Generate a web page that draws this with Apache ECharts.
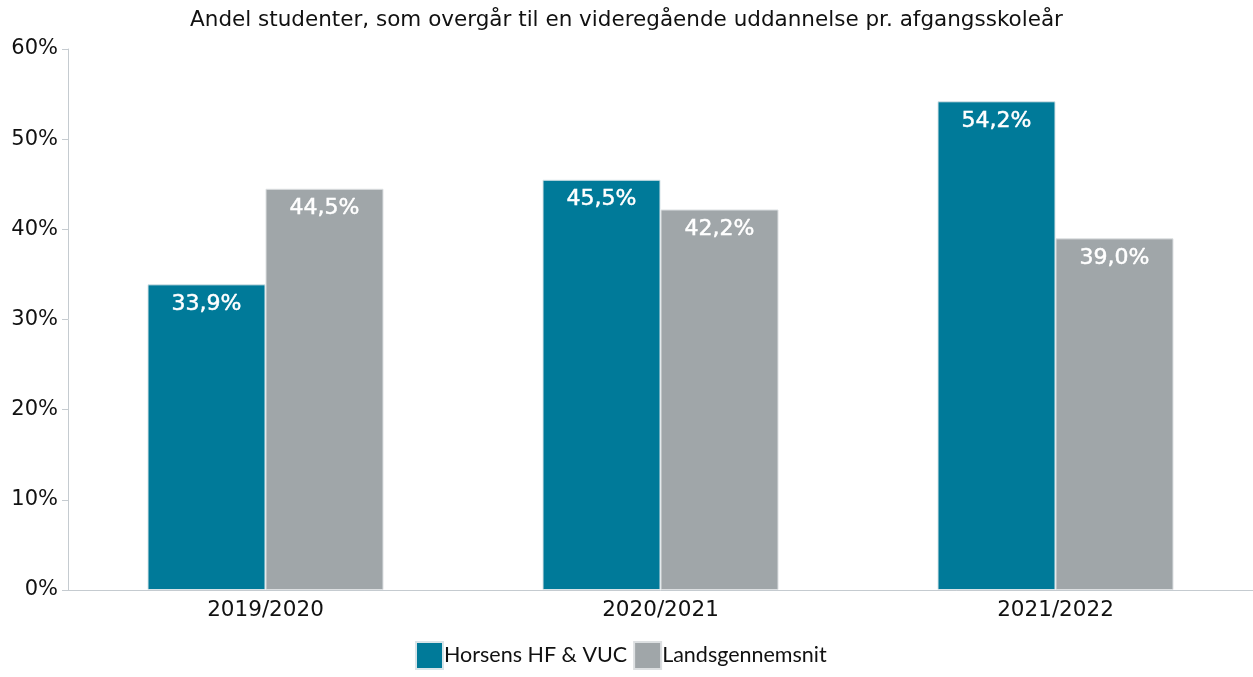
<!DOCTYPE html>
<html>
<head>
<meta charset="utf-8">
<script src="https://cdn.jsdelivr.net/npm/echarts@6/dist/echarts.min.js"></script>
<style>
  html, body { margin: 0; padding: 0; background: #fff; }
  #main { width: 1253px; height: 677px; }
</style>
</head>
<body>
<div id="main"></div>
<script>
// skoleår
var years = ['2019/2020', '2020/2021', '2021/2022'];
// andel i procent
var horsens = [33.9, 45.5, 54.2];
var landsgennemsnit = [44.5, 42.2, 39.0];
var yTicks = [0, 10, 20, 30, 40, 50, 60];

var chart = echarts.init(document.getElementById('main'));

function pct(p) {
  return p.value.toFixed(1).replace('.', ',') + '%';
}

var barLabel = {
  show: true,
  position: 'insideTop',
  distance: 9,
  color: '#fff',
  fontFamily: 'DejaVu Sans',
  fontSize: 22,
  fontWeight: 'normal',
  textBorderColor: '#fff',
  textBorderWidth: 0.5,
  formatter: pct
};

chart.setOption({
  animation: false,
  title: {
    text: 'Andel studenter, som overgår til en videregående uddannelse pr. afgangsskoleår',
    left: 'center',
    top: 4,
    textStyle: { fontFamily: 'DejaVu Sans', fontSize: 21.5, fontWeight: 'normal', color: '#111' }
  },
  legend: {
    bottom: 2,
    left: 410,
    icon: 'rect',
    itemWidth: 27,
    itemHeight: 27,
    itemGap: 6,
    textStyle: { fontFamily: 'Lato', fontSize: 21.5, color: '#111', padding: [0, 0, 0, -4] },
    data: ['Horsens HF & VUC', 'Landsgennemsnit']
  },
  grid: { left: 68, right: 0, top: 49, bottom: 87, containLabel: false },
  xAxis: {
    type: 'category',
    data: years,
    axisLine: { lineStyle: { color: '#c5cbd0' } },
    axisTick: { alignWithLabel: true, length: 6, lineStyle: { color: '#c5cbd0' } },
    axisLabel: { fontFamily: 'DejaVu Sans', fontSize: 21.5, color: '#111', margin: 9 }
  },
  yAxis: {
    type: 'value',
    min: yTicks[0],
    max: yTicks[yTicks.length - 1],
    interval: 10,
    axisLine: { show: true, lineStyle: { color: '#c5cbd0' } },
    axisTick: { show: true, length: 6, lineStyle: { color: '#c5cbd0' } },
    splitLine: { show: false },
    axisLabel: { fontFamily: 'DejaVu Sans', fontSize: 21, color: '#111', margin: 10, formatter: '{value}%' }
  },
  series: [
    {
      name: 'Horsens HF & VUC',
      type: 'bar',
      data: horsens,
      barWidth: 118,
      barGap: '0%',
      itemStyle: { color: '#007a99', borderColor: '#d8e4e8', borderWidth: 1 },
      label: barLabel
    },
    {
      name: 'Landsgennemsnit',
      type: 'bar',
      data: landsgennemsnit,
      barWidth: 118,
      barGap: '0%',
      itemStyle: { color: '#a0a6a9', borderColor: '#dde0e2', borderWidth: 1 },
      label: barLabel
    }
  ]
});
</script>
</body>
</html>
